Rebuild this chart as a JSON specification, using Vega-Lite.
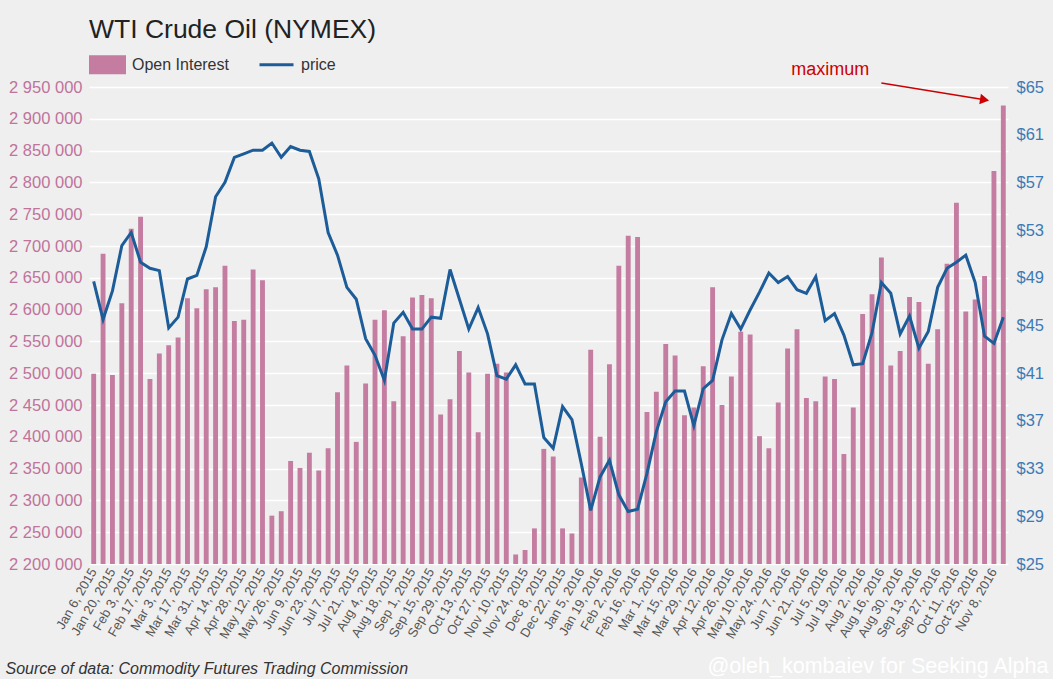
{
  "$schema": "https://vega.github.io/schema/vega-lite/v6.json",
  "width": 919,
  "height": 477,
  "autosize": {"type": "none"},
  "padding": {"left": 89, "top": 87, "right": 45, "bottom": 115},
  "title": {"text": "WTI Crude Oil (NYMEX)", "anchor": "start", "frame": "group", "fontSize": 26.5, "fontWeight": "normal", "color": "#222222", "offset": 3},
  "config": {
    "background": "#efefef",
    "view": {"stroke": null},
    "font": "Liberation Sans",
    "locale": {"number": {"decimal": ".", "thousands": " ", "grouping": [3], "currency": ["$", ""]}}
  },
  "datasets": {
    "cot": [
      {"date": "Jan 6, 2015", "oi": 2499000, "price": 48.7},
      {"date": "Jan 13, 2015", "oi": 2688000, "price": 45.5},
      {"date": "Jan 20, 2015", "oi": 2497000, "price": 47.9},
      {"date": "Jan 27, 2015", "oi": 2610000, "price": 51.7},
      {"date": "Feb 3, 2015", "oi": 2727000, "price": 52.8},
      {"date": "Feb 10, 2015", "oi": 2746000, "price": 50.3},
      {"date": "Feb 17, 2015", "oi": 2491000, "price": 49.8},
      {"date": "Feb 24, 2015", "oi": 2531000, "price": 49.6},
      {"date": "Mar 3, 2015", "oi": 2544000, "price": 44.8},
      {"date": "Mar 10, 2015", "oi": 2556000, "price": 45.7},
      {"date": "Mar 17, 2015", "oi": 2618000, "price": 48.9},
      {"date": "Mar 24, 2015", "oi": 2602000, "price": 49.2},
      {"date": "Mar 31, 2015", "oi": 2632000, "price": 51.6},
      {"date": "Apr 7, 2015", "oi": 2635000, "price": 55.8},
      {"date": "Apr 14, 2015", "oi": 2669000, "price": 57.0},
      {"date": "Apr 21, 2015", "oi": 2582000, "price": 59.1},
      {"date": "Apr 28, 2015", "oi": 2584000, "price": 59.4},
      {"date": "May 5, 2015", "oi": 2663000, "price": 59.7},
      {"date": "May 12, 2015", "oi": 2646000, "price": 59.7},
      {"date": "May 19, 2015", "oi": 2276000, "price": 60.3},
      {"date": "May 26, 2015", "oi": 2283000, "price": 59.1},
      {"date": "Jun 2, 2015", "oi": 2362000, "price": 60.0},
      {"date": "Jun 9, 2015", "oi": 2351000, "price": 59.7},
      {"date": "Jun 16, 2015", "oi": 2375000, "price": 59.6},
      {"date": "Jun 23, 2015", "oi": 2347000, "price": 57.3},
      {"date": "Jun 30, 2015", "oi": 2382000, "price": 52.8},
      {"date": "Jul 7, 2015", "oi": 2470000, "price": 50.9},
      {"date": "Jul 14, 2015", "oi": 2512000, "price": 48.2},
      {"date": "Jul 21, 2015", "oi": 2392000, "price": 47.2},
      {"date": "Jul 28, 2015", "oi": 2484000, "price": 43.9},
      {"date": "Aug 4, 2015", "oi": 2584000, "price": 42.5},
      {"date": "Aug 11, 2015", "oi": 2599000, "price": 40.4},
      {"date": "Aug 18, 2015", "oi": 2456000, "price": 45.2},
      {"date": "Aug 25, 2015", "oi": 2558000, "price": 46.1},
      {"date": "Sep 1, 2015", "oi": 2619000, "price": 44.7},
      {"date": "Sep 8, 2015", "oi": 2623000, "price": 44.7},
      {"date": "Sep 15, 2015", "oi": 2618000, "price": 45.7},
      {"date": "Sep 22, 2015", "oi": 2435000, "price": 45.6},
      {"date": "Sep 29, 2015", "oi": 2459000, "price": 49.7},
      {"date": "Oct 6, 2015", "oi": 2535000, "price": 47.2},
      {"date": "Oct 13, 2015", "oi": 2501000, "price": 44.7},
      {"date": "Oct 20, 2015", "oi": 2407000, "price": 46.5},
      {"date": "Oct 27, 2015", "oi": 2499000, "price": 44.3},
      {"date": "Nov 3, 2015", "oi": 2515000, "price": 40.8},
      {"date": "Nov 10, 2015", "oi": 2501000, "price": 40.5},
      {"date": "Nov 17, 2015", "oi": 2215000, "price": 41.7},
      {"date": "Nov 24, 2015", "oi": 2222000, "price": 40.1},
      {"date": "Dec 1, 2015", "oi": 2256000, "price": 40.1},
      {"date": "Dec 8, 2015", "oi": 2381000, "price": 35.6},
      {"date": "Dec 15, 2015", "oi": 2369000, "price": 34.7},
      {"date": "Dec 22, 2015", "oi": 2256000, "price": 38.2},
      {"date": "Dec 29, 2015", "oi": 2248000, "price": 37.1},
      {"date": "Jan 5, 2016", "oi": 2336000, "price": 33.4},
      {"date": "Jan 12, 2016", "oi": 2537000, "price": 29.5},
      {"date": "Jan 19, 2016", "oi": 2400000, "price": 32.3},
      {"date": "Jan 26, 2016", "oi": 2514000, "price": 33.7},
      {"date": "Feb 2, 2016", "oi": 2669000, "price": 30.8},
      {"date": "Feb 9, 2016", "oi": 2716000, "price": 29.4},
      {"date": "Feb 16, 2016", "oi": 2714000, "price": 29.6},
      {"date": "Feb 23, 2016", "oi": 2439000, "price": 32.6},
      {"date": "Mar 1, 2016", "oi": 2471000, "price": 36.1},
      {"date": "Mar 8, 2016", "oi": 2546000, "price": 38.6},
      {"date": "Mar 15, 2016", "oi": 2528000, "price": 39.5},
      {"date": "Mar 22, 2016", "oi": 2434000, "price": 39.5},
      {"date": "Mar 29, 2016", "oi": 2446000, "price": 36.6},
      {"date": "Apr 5, 2016", "oi": 2511000, "price": 39.7},
      {"date": "Apr 12, 2016", "oi": 2635000, "price": 40.4},
      {"date": "Apr 19, 2016", "oi": 2450000, "price": 43.8},
      {"date": "Apr 26, 2016", "oi": 2495000, "price": 46.0},
      {"date": "May 3, 2016", "oi": 2565000, "price": 44.7},
      {"date": "May 10, 2016", "oi": 2561000, "price": 46.3},
      {"date": "May 17, 2016", "oi": 2401000, "price": 47.8},
      {"date": "May 24, 2016", "oi": 2382000, "price": 49.4},
      {"date": "May 31, 2016", "oi": 2454000, "price": 48.6},
      {"date": "Jun 7, 2016", "oi": 2539000, "price": 49.1},
      {"date": "Jun 14, 2016", "oi": 2569000, "price": 48.0},
      {"date": "Jun 21, 2016", "oi": 2461000, "price": 47.7},
      {"date": "Jun 28, 2016", "oi": 2456000, "price": 49.1},
      {"date": "Jul 5, 2016", "oi": 2495000, "price": 45.4},
      {"date": "Jul 12, 2016", "oi": 2491000, "price": 46.0},
      {"date": "Jul 19, 2016", "oi": 2373000, "price": 44.2},
      {"date": "Jul 26, 2016", "oi": 2446000, "price": 41.7},
      {"date": "Aug 2, 2016", "oi": 2593000, "price": 41.8},
      {"date": "Aug 9, 2016", "oi": 2624000, "price": 44.4},
      {"date": "Aug 16, 2016", "oi": 2682000, "price": 48.6},
      {"date": "Aug 23, 2016", "oi": 2512000, "price": 47.7},
      {"date": "Aug 30, 2016", "oi": 2535000, "price": 44.3},
      {"date": "Sep 6, 2016", "oi": 2620000, "price": 45.8},
      {"date": "Sep 13, 2016", "oi": 2612000, "price": 43.1},
      {"date": "Sep 20, 2016", "oi": 2515000, "price": 44.5},
      {"date": "Sep 27, 2016", "oi": 2569000, "price": 48.2},
      {"date": "Oct 4, 2016", "oi": 2672000, "price": 49.8},
      {"date": "Oct 11, 2016", "oi": 2768000, "price": 50.3},
      {"date": "Oct 18, 2016", "oi": 2597000, "price": 50.9},
      {"date": "Oct 25, 2016", "oi": 2616000, "price": 48.6},
      {"date": "Nov 1, 2016", "oi": 2653000, "price": 44.1},
      {"date": "Nov 8, 2016", "oi": 2818000, "price": 43.5},
      {"date": "Nov 15, 2016", "oi": 2921000, "price": 45.7}
    ],
    "note": [
      {"date": "Jul 5, 2016", "v": 2969000, "label": "maximum"}
    ],
    "arrow": [
      {"date": "Aug 16, 2016", "v": 2956300, "end": false},
      {"date": "Nov 1, 2016", "v": 2930000, "end": true}
    ]
  },
  "data": {"name": "cot"},
  "layer": [
    {
      "layer": [
        {
          "mark": {"type": "bar"},
          "encoding": {
            "x": {
              "field": "date", "type": "nominal", "sort": null,
              "scale": {"paddingInner": 0.48, "paddingOuter": 0.24},
              "axis": {
                "values": ["Jan 6, 2015", "Jan 20, 2015", "Feb 3, 2015", "Feb 17, 2015", "Mar 3, 2015", "Mar 17, 2015", "Mar 31, 2015", "Apr 14, 2015", "Apr 28, 2015", "May 12, 2015", "May 26, 2015", "Jun 9, 2015", "Jun 23, 2015", "Jul 7, 2015", "Jul 21, 2015", "Aug 4, 2015", "Aug 18, 2015", "Sep 1, 2015", "Sep 15, 2015", "Sep 29, 2015", "Oct 13, 2015", "Oct 27, 2015", "Nov 10, 2015", "Nov 24, 2015", "Dec 8, 2015", "Dec 22, 2015", "Jan 5, 2016", "Jan 19, 2016", "Feb 2, 2016", "Feb 16, 2016", "Mar 1, 2016", "Mar 15, 2016", "Mar 29, 2016", "Apr 12, 2016", "Apr 26, 2016", "May 10, 2016", "May 24, 2016", "Jun 7, 2016", "Jun 21, 2016", "Jul 5, 2016", "Jul 19, 2016", "Aug 2, 2016", "Aug 16, 2016", "Aug 30, 2016", "Sep 13, 2016", "Sep 27, 2016", "Oct 11, 2016", "Oct 25, 2016", "Nov 8, 2016"],
                "labelAngle": -60,
                "labelFontSize": 13,
                "labelColor": "#555555",
                "labelPadding": 5,
                "ticks": false,
                "domain": false,
                "grid": false,
                "title": "Source of data: Commodity Futures Trading Commission",
                "titleFontStyle": "italic",
                "titleFontWeight": "normal",
                "titleFontSize": 16,
                "titleColor": "#333333",
                "titleAlign": "left",
                "titleAnchor": "start",
                "titleBaseline": "alphabetic",
                "titleX": -84,
                "titleY": 109
              }
            },
            "y": {
              "field": "oi", "type": "quantitative",
              "scale": {"domain": [2200000, 2950000], "zero": false, "nice": false},
              "axis": {
                "values": [2200000, 2250000, 2300000, 2350000, 2400000, 2450000, 2500000, 2550000, 2600000, 2650000, 2700000, 2750000, 2800000, 2850000, 2900000, 2950000],
                "format": ",d",
                "labelFontSize": 16.5,
                "labelColor": "#c0739b",
                "labelPadding": 7,
                "labelOverlap": false,
                "ticks": false,
                "domain": false,
                "grid": true,
                "gridColor": "#ffffff",
                "gridWidth": 1.5,
                "title": null
              }
            },
            "y2": {"datum": 2200000},
            "color": {
              "datum": "Open Interest",
              "type": "nominal",
              "scale": {"domain": ["Open Interest", "price"], "range": ["#c47ca0", "#1c5c98"]},
              "legend": {
                "orient": "top",
                "direction": "horizontal",
                "title": null,
                "symbolSize": 1156,
                "labelFontSize": 16,
                "labelColor": "#333333",
                "labelOffset": 6,
                "columnPadding": 24,
                "offset": 8,
                "encode": {
                  "symbols": {
                    "update": {
                      "shape": {"signal": "datum.value === 'price' ? 'M-1,-0.47L-1,-0.47M-1,0H1M-1,0.47L-1,0.47' : 'M-1,-0.47H1V0.47H-1Z'"},
                      "fill": {"signal": "datum.value === 'price' ? 'transparent' : '#c47ca0'"},
                      "stroke": {"signal": "datum.value === 'price' ? '#1c5c98' : 'transparent'"},
                      "strokeWidth": {"value": 3},
                      "opacity": {"value": 1}
                    }
                  }
                }
              }
            }
          }
        },
        {
          "data": {"name": "note"},
          "mark": {"type": "text", "color": "#cc0000", "fontSize": 18, "align": "center", "baseline": "alphabetic", "dx": 5},
          "encoding": {
            "x": {"field": "date", "type": "nominal", "sort": null},
            "y": {
              "field": "v", "type": "quantitative",
              "axis": {
                "values": [2200000, 2250000, 2300000, 2350000, 2400000, 2450000, 2500000, 2550000, 2600000, 2650000, 2700000, 2750000, 2800000, 2850000, 2900000, 2950000],
                "format": ",d",
                "labelFontSize": 16.5,
                "labelColor": "#c0739b",
                "labelPadding": 7,
                "labelOverlap": false,
                "ticks": false,
                "domain": false,
                "grid": true,
                "gridColor": "#ffffff",
                "gridWidth": 1.5,
                "title": null
              }
            },
            "text": {"field": "label"}
          }
        },
        {
          "data": {"name": "arrow"},
          "mark": {"type": "line", "color": "#cc0000", "strokeWidth": 1.5},
          "encoding": {
            "x": {"field": "date", "type": "nominal", "sort": null},
            "y": {
              "field": "v", "type": "quantitative",
              "axis": {
                "values": [2200000, 2250000, 2300000, 2350000, 2400000, 2450000, 2500000, 2550000, 2600000, 2650000, 2700000, 2750000, 2800000, 2850000, 2900000, 2950000],
                "format": ",d",
                "labelFontSize": 16.5,
                "labelColor": "#c0739b",
                "labelPadding": 7,
                "labelOverlap": false,
                "ticks": false,
                "domain": false,
                "grid": true,
                "gridColor": "#ffffff",
                "gridWidth": 1.5,
                "title": null
              }
            }
          }
        },
        {
          "data": {"name": "arrow"},
          "transform": [{"filter": "datum.end"}],
          "mark": {"type": "point", "shape": "triangle-right", "filled": true, "color": "#cc0000", "size": 110, "angle": 9, "opacity": 1},
          "encoding": {
            "x": {"field": "date", "type": "nominal", "sort": null},
            "y": {
              "field": "v", "type": "quantitative",
              "axis": {
                "values": [2200000, 2250000, 2300000, 2350000, 2400000, 2450000, 2500000, 2550000, 2600000, 2650000, 2700000, 2750000, 2800000, 2850000, 2900000, 2950000],
                "format": ",d",
                "labelFontSize": 16.5,
                "labelColor": "#c0739b",
                "labelPadding": 7,
                "labelOverlap": false,
                "ticks": false,
                "domain": false,
                "grid": true,
                "gridColor": "#ffffff",
                "gridWidth": 1.5,
                "title": null
              }
            }
          }
        }
      ]
    },
    {
      "mark": {"type": "line", "strokeWidth": 3},
      "encoding": {
        "x": {"field": "date", "type": "nominal", "sort": null},
        "y": {
          "field": "price", "type": "quantitative",
          "scale": {"domain": [25, 65], "zero": false, "nice": false},
          "axis": {
            "orient": "right",
            "values": [25, 29, 33, 37, 41, 45, 49, 53, 57, 61, 65],
            "labelExpr": "'$' + datum.value",
            "labelFontSize": 16.5,
            "labelColor": "#3d7ab5",
            "labelPadding": 8,
            "ticks": false,
            "domain": false,
            "grid": false,
            "title": "@oleh_kombaiev for Seeking Alpha",
            "titleAngle": 0,
            "titleAlign": "right",
            "titleBaseline": "alphabetic",
            "titleX": 40,
            "titleY": 585,
            "titleFontSize": 21.5,
            "titleFontWeight": "normal",
            "titleColor": "#ffffff"
          }
        },
        "color": {"datum": "price", "type": "nominal"}
      }
    }
  ],
  "resolve": {"scale": {"y": "independent"}}
}
